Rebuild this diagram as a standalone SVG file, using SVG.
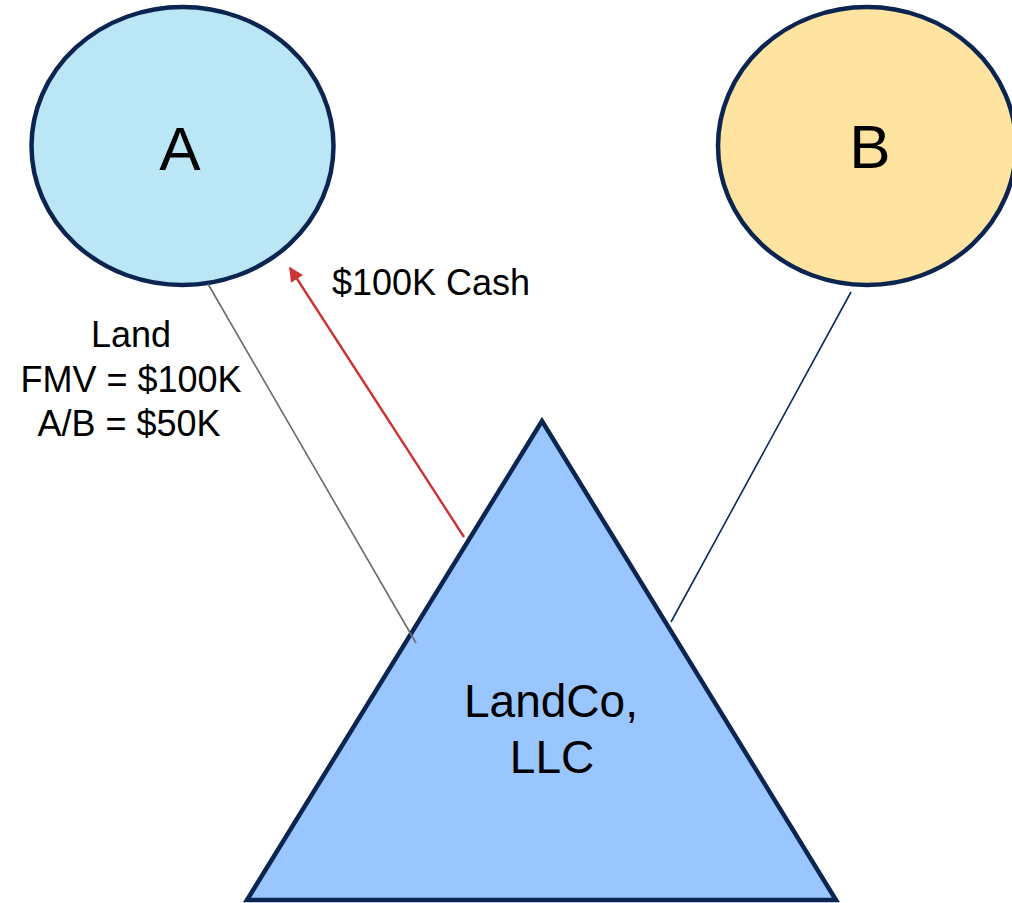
<svg xmlns="http://www.w3.org/2000/svg" width="1012" height="903" viewBox="0 0 1012 903">
  <style>
    .node { stroke: #0B2550; stroke-width: 4.5; }
    .lbl { font-family: "Liberation Sans", Arial, sans-serif; fill: #000; text-anchor: middle; }
  </style>
  <defs>
    <marker id="arrowRed" viewBox="0 0 10 10" refX="9" refY="5" markerWidth="6.5" markerHeight="6" markerUnits="strokeWidth" orient="auto">
      <path d="M0,0 L10,5 L0,10 z" fill="#CC3333"/>
    </marker>
  </defs>
  <rect width="1012" height="903" fill="#FFFFFF"/>
  <g id="node-A">
    <ellipse class="node" cx="182.5" cy="146" rx="151" ry="139" fill="#BAE6F6"/>
    <text class="lbl" x="180" y="170" font-size="62">A</text>
  </g>
  <g id="node-B">
    <ellipse class="node" cx="867" cy="146" rx="149" ry="139" fill="#FFE3A1"/>
    <text class="lbl" x="870" y="168" font-size="62">B</text>
  </g>
  <g id="node-LandCo">
    <polygon class="node" points="542,421 247,900 836,900" fill="#99C6FF" stroke-linejoin="miter"/>
    <text class="lbl" x="551" y="717" font-size="46">LandCo,</text>
    <text class="lbl" x="552" y="773" font-size="46">LLC</text>
  </g>
  <g id="connectors">
    <line x1="208" y1="284" x2="416" y2="643" stroke="#6B6B6B" stroke-width="1.6"/>
    <line x1="851" y1="292" x2="671" y2="622" stroke="#0B2A5C" stroke-width="1.6"/>
    <line x1="464" y1="537" x2="290" y2="268" stroke="#CC3333" stroke-width="2.4" marker-end="url(#arrowRed)"/>
  </g>
  <g id="labels">
    <text class="lbl" x="131" y="347" font-size="36">Land</text>
    <text class="lbl" x="131" y="392" font-size="36">FMV = $100K</text>
    <text class="lbl" x="129" y="436" font-size="36">A/B = $50K</text>
    <text class="lbl" x="431" y="295" font-size="36">$100K Cash</text>
  </g>
</svg>
